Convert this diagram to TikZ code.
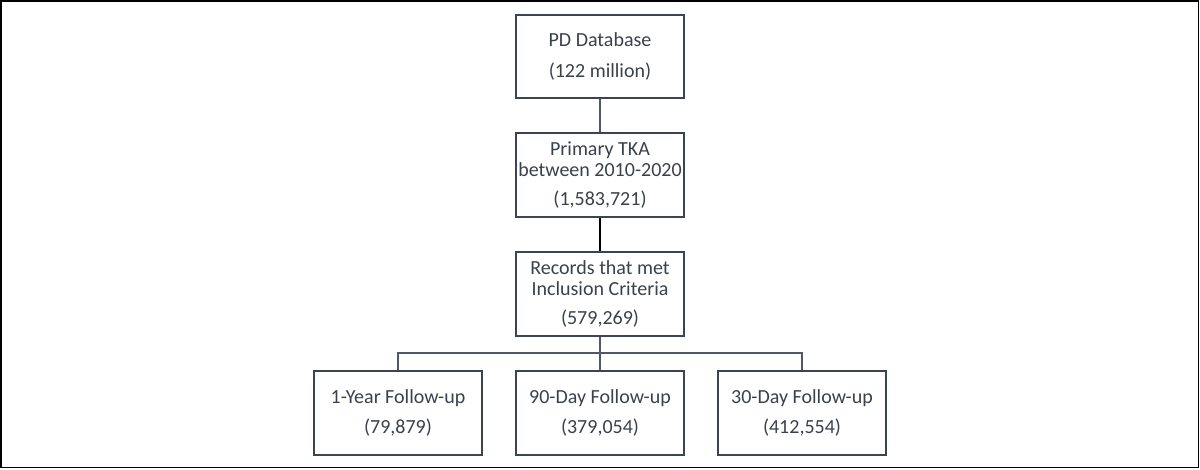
\documentclass[tikz,border=0pt]{standalone}
\usepackage{fontspec}
\setmainfont{Carlito}
\definecolor{boxc}{HTML}{3B4453}
\definecolor{txtc}{HTML}{3A404C}
\definecolor{linec}{HTML}{4E5866}
\begin{document}
\begin{tikzpicture}[x=0.75pt,y=-0.75pt,
  fbox/.style={draw=boxc,line width=1.6pt,minimum width=125.5pt,minimum height=62.5pt,
    inner sep=0pt,align=center,text=txtc,font=\fontsize{15}{16}\selectfont},
  conn/.style={draw=linec,line width=1.1pt}]
\useasboundingbox (0,0) rectangle (1200,470);
\draw[black,line width=1.2pt] (1,1) rectangle (1198.5,467.5);
\node[fbox] (pd) at (600,56.5) {PD Database\\[7pt](122 million)};
\node[fbox] (tka) at (600,175) {Primary TKA\\between 2010-2020\\[6pt](1,583,721)};
\node[fbox] (rec) at (600,294) {Records that met\\Inclusion Criteria\\[6pt](579,269)};
\node[fbox] (y1) at (398,413) {1-Year Follow-up\\[7pt](79,879)};
\node[fbox] (d90) at (600,413) {90-Day Follow-up\\[7pt](379,054)};
\node[fbox] (d30) at (802,413) {30-Day Follow-up\\[7pt](412,554)};
\coordinate (bus) at (600,353);
\draw[conn] (pd) -- (tka);
\draw[black,line width=1.1pt] (tka) -- (rec);
\draw[conn] (rec.south) -- (d90.north);
\draw[conn] (y1.north) |- (bus) -| (d30.north);
\end{tikzpicture}
\end{document}
